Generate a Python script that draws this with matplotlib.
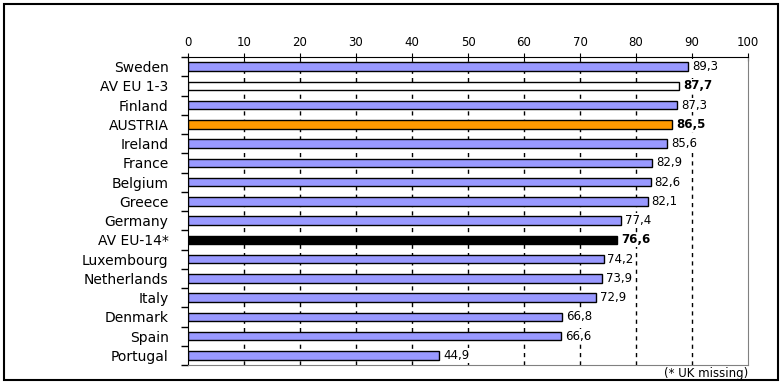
import matplotlib
matplotlib.use("Agg")
import matplotlib.pyplot as plt
from matplotlib.patches import Rectangle

# data, top to bottom
countries = ["Sweden", "AV EU 1-3", "Finland", "AUSTRIA", "Ireland", "France",
             "Belgium", "Greece", "Germany", "AV EU-14*", "Luxembourg",
             "Netherlands", "Italy", "Denmark", "Spain", "Portugal"]
values = [89.3, 87.7, 87.3, 86.5, 85.6, 82.9, 82.6, 82.1, 77.4, 76.6,
          74.2, 73.9, 72.9, 66.8, 66.6, 44.9]
highlight = {"AV EU 1-3": "#FFFFFF", "AUSTRIA": "#FF9900", "AV EU-14*": "#000000"}
bold_labels = ["AV EU 1-3", "AUSTRIA", "AV EU-14*"]
xticks = [0, 10, 20, 30, 40, 50, 60, 70, 80, 90, 100]
note = "(* UK missing)"

plt.rcParams['font.family'] = ['DejaVu Sans']

fig = plt.figure(figsize=(7.83, 3.87), dpi=100)
ax = fig.add_axes([188 / 783, 1 - 365 / 387, (748 - 188) / 783, (365 - 57) / 387])

n = len(countries)
ypos = list(range(n))
colors = [highlight.get(c, "#9999FF") for c in countries]

# gridlines behind bars
for x in xticks[1:-1]:
    ax.axvline(x, color="black", lw=1.0, ls=(0, (3, 3)), zorder=0)

ax.barh(ypos, values, height=0.45, color=colors, edgecolor="black",
        linewidth=1.0, zorder=2)

for y, v, c in zip(ypos, values, countries):
    ax.text(v + 0.7, y, f"{v:.1f}".replace(".", ","), va="center", ha="left",
            fontsize=8.5, fontweight="bold" if c in bold_labels else "normal",
            bbox=dict(facecolor="white", edgecolor="none", pad=0.5),
            zorder=3)

ax.set_xlim(0, 100)
ax.set_ylim(n - 0.5, -0.5)
ax.xaxis.tick_top()
ax.set_xticks(xticks)
ax.tick_params(axis="x", direction="inout", length=6, pad=3, labelsize=8.5)

# category labels with ticks at boundaries
ax.set_yticks([i + 0.5 for i in range(-1, n)], minor=False)
ax.set_yticklabels([])
ax.tick_params(axis="y", direction="out", length=5, width=1)
ax.set_yticks(ypos, minor=True)
ax.set_yticklabels(countries, minor=True)
ax.tick_params(axis="y", which="minor", length=0, pad=14, labelsize=10)

ax.spines["top"].set_color("black")
ax.spines["left"].set_color("black")
ax.spines["right"].set_color("#808080")
ax.spines["bottom"].set_color("#808080")

fig.text(748 / 783, 1 - 373 / 387, note, ha="right", va="center", fontsize=8.5)

# outer frame
fig.patches.append(Rectangle((4 / 783, 1 - 380 / 387), 774 / 783, 376 / 387,
                             transform=fig.transFigure, fill=False,
                             edgecolor="black", linewidth=1.5))

fig.savefig("out.png", dpi=100)
